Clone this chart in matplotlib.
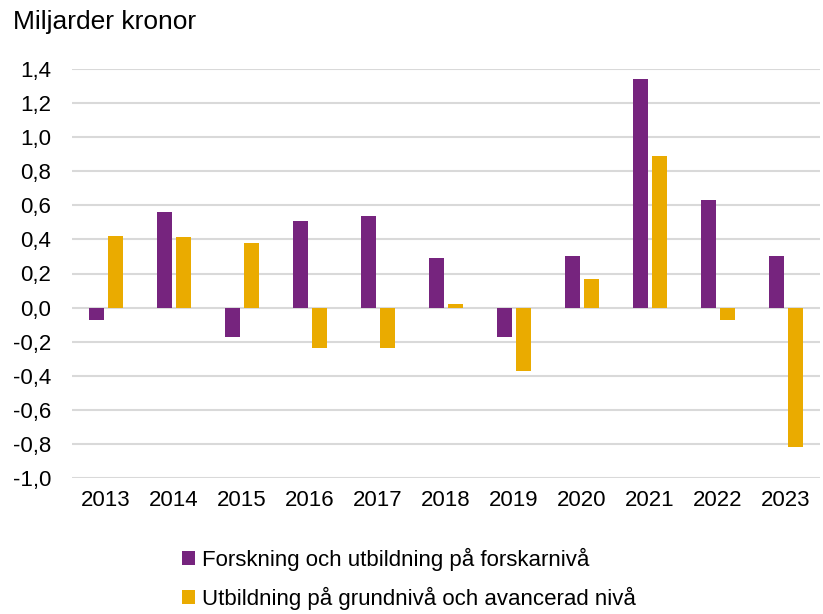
import numpy as np
import matplotlib
matplotlib.use("Agg")
import matplotlib.pyplot as plt

plt.rcParams['font.family'] = ['Liberation Sans', 'DejaVu Sans']

years = ['2013', '2014', '2015', '2016', '2017', '2018', '2019', '2020', '2021', '2022', '2023']
forskning = [-0.07, 0.56, -0.17, 0.51, 0.54, 0.29, -0.17, 0.30, 1.34, 0.63, 0.30]
grundniva = [0.42, 0.415, 0.38, -0.24, -0.235, 0.02, -0.375, 0.17, 0.89, -0.07, -0.82]
yticks = [1.4, 1.2, 1.0, 0.8, 0.6, 0.4, 0.2, 0.0, -0.2, -0.4, -0.6, -0.8, -1.0]
labels = ['Forskning och utbildning på forskarnivå',
          'Utbildning på grundnivå och avancerad nivå']
PURPLE = '#76247E'
GOLD = '#EAAB00'

fig = plt.figure(figsize=(8.23, 6.14), dpi=100)
ax = fig.add_axes([72/823, 1-478/614, 748/823, 409/614])

x = np.arange(len(years))
w = 0.22
off = 0.14
ax.bar(x - off, forskning, w, color=PURPLE, label=labels[0], zorder=3)
ax.bar(x + off, grundniva, w, color=GOLD, label=labels[1], zorder=3)

ax.set_xlim(-0.5, len(years) - 0.5)
ax.set_ylim(-1.0, 1.4)
ax.set_yticks(yticks)
ax.set_yticklabels([f"{v:.1f}".replace('.', ',') for v in yticks])
ax.set_xticks(x)
ax.set_xticklabels(years)
ax.tick_params(axis='both', length=0, labelsize=16, colors='black')
ax.tick_params(axis='y', pad=15)
ax.tick_params(axis='x', pad=9)
ax.grid(axis='y', color='#d9d9d9', linewidth=1.5, zorder=0)
for s in ax.spines.values():
    s.set_visible(False)

fig.text(13/823, 1-22/614, 'Miljarder kronor', fontsize=19, va='center', ha='left')

fig.legend(loc='upper left', bbox_to_anchor=(173/823, 1-539/614), ncol=1, frameon=False,
           fontsize=16, handlelength=0.6, handleheight=0.6, handletextpad=0.3,
           labelspacing=0.7, borderaxespad=0)

fig.savefig('out.png', dpi=100)
